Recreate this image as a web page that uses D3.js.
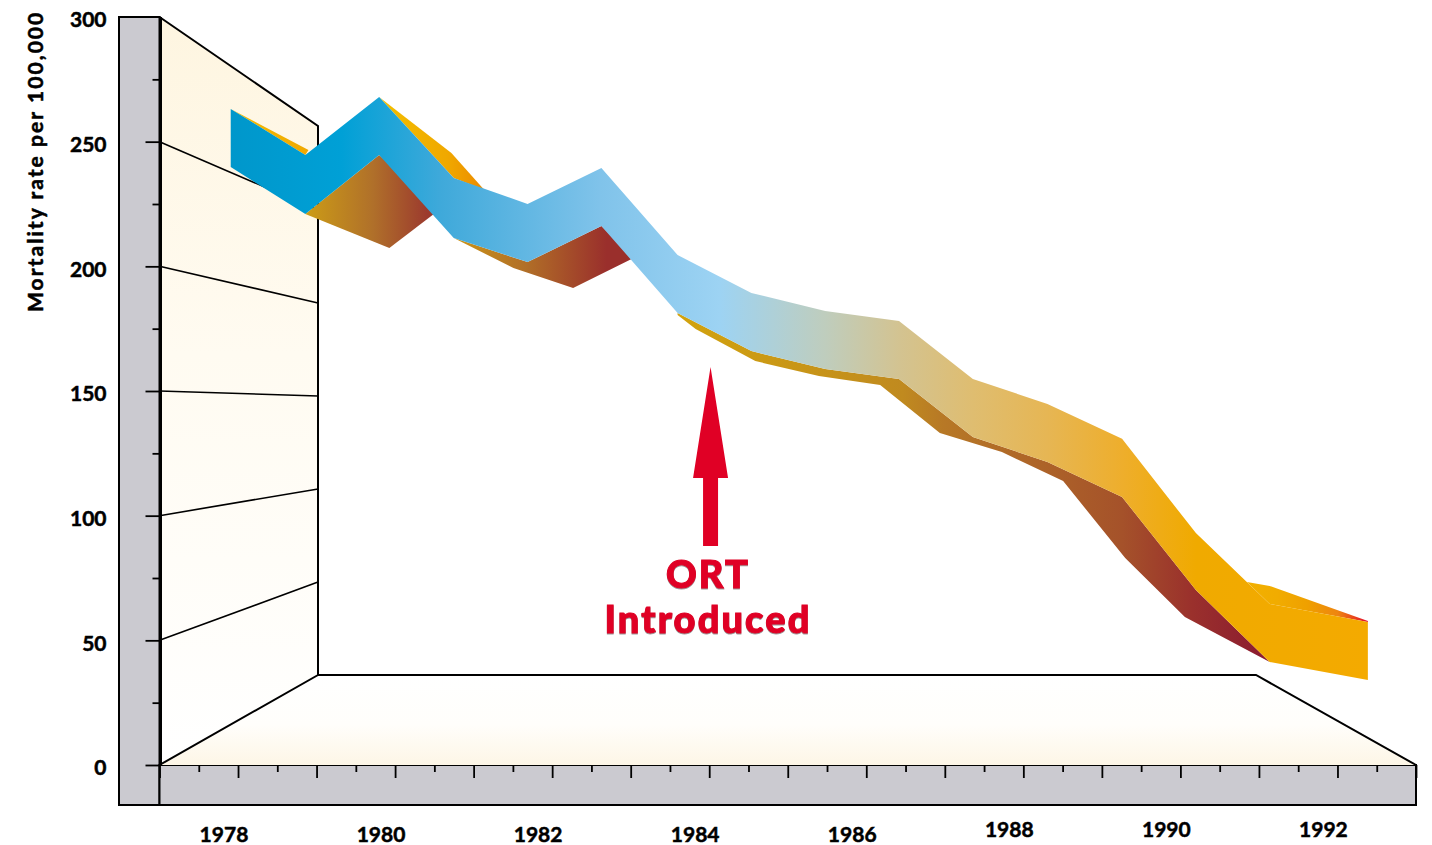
<!DOCTYPE html>
<html><head><meta charset="utf-8">
<script src="https://cdn.jsdelivr.net/npm/d3@7/dist/d3.min.js"></script>
<style>
html,body{margin:0;padding:0;background:#fff}
svg{display:block}
text{font-family:Lato,sans-serif;font-weight:700;fill:#000}
</style></head><body>
<script>
// ---- labels ----
const yearLabels = [1978,1980,1982,1984,1986,1988,1990,1992];
const valueLabels = [0,50,100,150,200,250,300];
const minorValues = [25,75,125,175,225,275];
const gridValues = [50,100,150,200,250];
const yTitle = "Mortality rate per 100,000";
const noteLines = ["ORT","Introduced"];

// ---- ribbon face ----
const ribbonYears = [1978.08,1979.03,1979.97,1980.92,1981.86,1982.80,1983.77,1984.71,1985.65,1986.59,1987.53,1988.48,1989.43,1990.37,1991.31,1992.56];
const ribbonTop =   [263.1,244.7,267.9,235.4,225.0,239.4,204.5,189.3,182.1,178.1,154.8,144.8,130.8,93.0,64.6,57.4];
const ribbonBottom =[239.8,221.0,244.7,211.4,201.7,216.2,181.3,166.0,158.8,154.8,131.6,121.5,107.5,70.2,41.3,34.1];

// ---- ribbon under side ----
const underAYears = [1979.03,1980.10,1980.75,1979.97];
const underAValues = [221.0,207.4,223.0,244.7];
const underBYears = [1980.92,1981.68,1982.44,1983.21,1982.80,1981.86];
const underBValues = [211.4,199.3,191.3,203.3,216.2,201.7];
const underCYears = [1983.77,1984.00,1984.76,1985.57,1986.35,1987.11,1987.90,1988.68,1989.47,1990.23,1991.31];
const underCValues = [180.5,174.9,162.0,156.0,152.4,133.2,125.5,113.9,83.0,59.4,41.3];

// ---- ribbon top side ----
const topAYears = [1978.08,1979.07,1979.03];
const topAValues = [263.1,246.7,244.7];
const topBYears = [1979.97,1980.89,1981.31,1980.92];
const topBValues = [267.9,245.5,230.6,235.4];
const topCYears = [1991.02,1991.31,1992.56,1992.56,1991.31];
const topCValues = [73.4,71.8,57.8,57.4,64.6];

// ---- arrow ----
const arrowYear = 1984.19;
const arrowTip = 159.6, arrowHeadBase = 115.1, arrowTail = 87.8;

const W = 1432, H = 845;
const svg = d3.select("body").append("svg").attr("width",W).attr("height",H);
const defs = svg.append("defs");

const x = d3.scaleLinear().domain([1977.173,1993.173]).range([159.5,1416]);
const y = d3.scaleLinear().domain([0,300]).range([765,17]);
const yBack = d3.scaleLinear().domain([0,250]).range([675,210]);
const backX = x.invert(318), floorBackRight = x.invert(1256);
const wallTopValue = yBack.invert(126);

function grad(id, stops, vertical){
  const g = defs.append("linearGradient").attr("id",id)
    .attr("x1",0).attr("y1",0).attr("x2",vertical?0:1).attr("y2",vertical?1:0);
  stops.forEach(s=>g.append("stop").attr("offset",s[0]).attr("stop-color",s[1]));
}
grad("wall",[[0,"#fef5e0"],[0.45,"#fffbf1"],[1,"#ffffff"]],true);
grad("floor",[[0,"#ffffff"],[0.55,"#fffefb"],[1,"#fdf6e6"]],true);
grad("face",[[0,"#0097cb"],[0.097,"#00a0d6"],[0.185,"#3fa9da"],[0.325,"#80c3ea"],[0.43,"#9dd3f3"],
  [0.523,"#bfcdbd"],[0.588,"#d3c391"],[0.653,"#dfbd70"],[0.718,"#e6b654"],[0.784,"#eeae2c"],[0.849,"#f0aa00"],[1,"#f4aa00"]]);
grad("underA",[[0,"#cc9c16"],[0.5,"#b0702a"],[0.9,"#9c3b2e"],[1,"#9c3b2e"]]);
grad("underB",[[0,"#cc9418"],[0.4,"#b16f27"],[0.85,"#9a2f2c"],[1,"#9a2f2c"]]);
grad("underC",[[0,"#d2a30e"],[0.38,"#c08a1f"],[0.45,"#b77826"],[0.75,"#a5522a"],[0.87,"#9a302c"],[1,"#8a1a30"]]);
grad("topSideA",[[0,"#f3bd00"],[1,"#f0a800"]]);
grad("topSideB",[[0,"#f3bf00"],[0.65,"#f0a800"],[1,"#ec8a00"]]);
grad("topSideC",[[0,"#f2b000"],[0.25,"#f1ac00"],[0.5,"#efa000"],[0.75,"#ee8510"],[0.92,"#e8351f"],[1,"#e2002d"]]);

const poly = (xs,vs)=>d3.zip(xs,vs).map(d=>[x(d[0]),y(d[1])]);
const line = d3.line();

// gray panels
svg.append("rect").attr("x",119).attr("y",y(300)).attr("width",x(1977.173)-119).attr("height",805-y(300))
  .attr("fill","#cbcad0").attr("stroke","#000").attr("stroke-width",2);
svg.append("rect").attr("x",x(1977.173)).attr("y",y(0)).attr("width",x(1993.173)-x(1977.173)).attr("height",40)
  .attr("fill","#cbcad0").attr("stroke","#000").attr("stroke-width",2);

// wall and floor
const wallPts = [[x.domain()[0],300,y],[backX,wallTopValue,yBack],[backX,0,yBack],[x.domain()[0],0,y]].map(d=>[x(d[0]),d[2](d[1])]);
svg.append("path").attr("d",line(wallPts)+"Z").attr("fill","url(#wall)").attr("stroke","none");
const floorPts = [[x(1977.173),y(0)],[x(backX),yBack(0)],[x(floorBackRight),yBack(0)],[x(1993.173),y(0)]];
svg.append("path").attr("d",line(floorPts)+"Z").attr("fill","url(#floor)");

// grid on wall
svg.append("g").selectAll("line").data(gridValues).join("line")
  .attr("x1",x(1977.173)).attr("x2",x(backX)).attr("y1",d=>y(d)).attr("y2",d=>yBack(d))
  .attr("stroke","#000").attr("stroke-width",1.6);

// frame lines
svg.append("path").attr("fill","none").attr("stroke","#000").attr("stroke-width",2)
  .attr("d",line([wallPts[0],wallPts[1],wallPts[2],floorPts[0]]));
svg.append("path").attr("fill","none").attr("stroke","#000").attr("stroke-width",2)
  .attr("d",line([floorPts[1],floorPts[2],floorPts[3]]));
svg.append("line").attr("x1",x(1977.173)+1).attr("x2",x(1977.173)+1).attr("y1",y(300)).attr("y2",y(0))
  .attr("stroke","#000").attr("stroke-width",3);

// axes
const yMajor = d3.axisLeft(y).tickValues(valueLabels.filter(v=>v<300)).tickSize(14).tickFormat("");
const yMinor = d3.axisLeft(y).tickValues(minorValues).tickSize(7).tickFormat("");
const yText = d3.axisLeft(y).tickValues(valueLabels).tickSize(0).tickPadding(53);
[yMajor,yMinor].forEach(a=>{
  const g = svg.append("g").attr("transform",`translate(${x(1977.173)},0)`).call(a);
  g.select(".domain").remove();
  g.selectAll("line").attr("stroke","#000").attr("stroke-width",1.8);
});
const yg = svg.append("g").attr("transform",`translate(${x(1977.173)},0)`).call(yText);
yg.select(".domain").remove();
yg.selectAll("text").attr("font-size",21).attr("dy","0.47em")
  .attr("stroke","#000").attr("stroke-width",0.5)
  .style("font-family","Lato").style("font-weight",700);

const halfYears = d3.range(0,33).map(k=>1977.173+k/2);
const xMajor = d3.axisBottom(x).tickValues(halfYears.filter((d,i)=>i%2===0)).tickSize(13).tickFormat("");
const xMinor = d3.axisBottom(x).tickValues(halfYears.filter((d,i)=>i%2===1)).tickSize(7).tickFormat("");
[xMajor,xMinor].forEach(a=>{
  const g = svg.append("g").attr("transform",`translate(0,${y(0)})`).call(a);
  g.select(".domain").remove();
  g.selectAll("line").attr("stroke","#000").attr("stroke-width",1.8);
});
const xText = d3.axisBottom(x).tickValues(yearLabels).tickSize(0).tickPadding(0).tickFormat(d3.format("d"));
const xg = svg.append("g").attr("transform",`translate(-1,${y(0)})`).call(xText);
xg.select(".domain").remove();
xg.selectAll("text").attr("font-size",21).attr("dy",0).attr("y",d=>d>=1988?72:77)
  .attr("stroke","#000").attr("stroke-width",0.5)
  .style("font-family","Lato").style("font-weight",700);

// ribbon sides
const frontBottomPts = poly(ribbonYears,ribbonBottom);
const sides = [
  [poly(topAYears,topAValues),"topSideA"],
  [poly(topBYears,topBValues),"topSideB"],
  [poly(topCYears,topCValues),"topSideC"],
  [poly(underAYears,underAValues),"underA"],
  [poly(underBYears,underBValues),"underB"],
  [poly(underCYears,underCValues).concat(frontBottomPts.slice(6,14).reverse()),"underC"]
];
svg.append("g").selectAll("path").data(sides).join("path")
  .attr("d",d=>line(d[0])+"Z").attr("fill",d=>`url(#${d[1]})`);

// ribbon face
const area = d3.area().x(d=>x(d[0])).y0(d=>y(d[2])).y1(d=>y(d[1]));
svg.append("path").attr("d",area(d3.zip(ribbonYears,ribbonTop,ribbonBottom))).attr("fill","url(#face)");

// arrow
const ax = x(arrowYear);
const arrowPts = [[ax,y(arrowTip)],[ax+17.5,y(arrowHeadBase)],[ax+7.5,y(arrowHeadBase)],[ax+7.5,y(arrowTail)],
  [ax-7.5,y(arrowTail)],[ax-7.5,y(arrowHeadBase)],[ax-17.5,y(arrowHeadBase)]];
svg.append("path").attr("d",line(arrowPts)+"Z").attr("fill","#e00025");

// note
svg.append("g").selectAll("text").data(noteLines).join("text")
  .attr("x",708).attr("y",(d,i)=>588+i*45).attr("text-anchor","middle")
  .attr("font-size",38).style("fill","#e00025").attr("stroke","#e00025").attr("stroke-width",1)
  .style("font-weight",900).style("letter-spacing","2.1px")
  .style("filter","drop-shadow(0 1px 0 #9a9a9a)")
  .text(d=>d);

// y title
svg.append("text").attr("transform","translate(43,312) rotate(-90)")
  .attr("font-size",21).attr("stroke","#000").attr("stroke-width",0.5)
  .style("letter-spacing","2.06px").text(yTitle);
</script>
</body></html>
